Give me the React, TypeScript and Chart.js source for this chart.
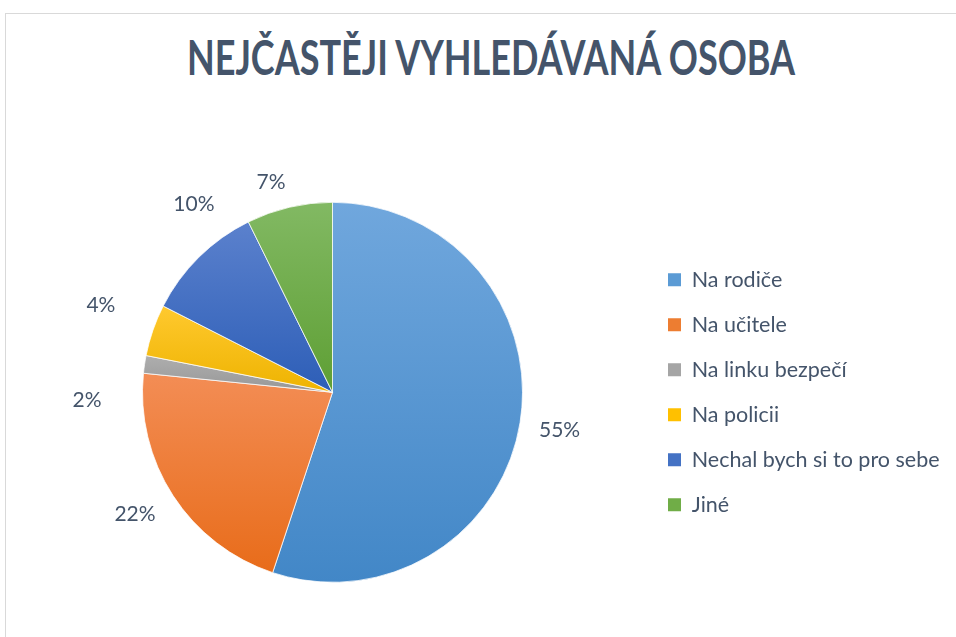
import React, { useEffect, useRef } from 'react';
import { Chart, registerables } from 'chart.js';

Chart.register(...registerables);

// ---- data ----
const TITLE = 'NEJČASTĚJI VYHLEDÁVANÁ OSOBA';
const CATEGORIES = ['Na rodiče', 'Na učitele', 'Na linku bezpečí', 'Na policii', 'Nechal bych si to pro sebe', 'Jiné'];
const SHARES = [55.1, 21.5, 1.5, 4.4, 10.2, 7.3];

// ---- styles ----
const TOP_COLORS = ['#70A7DD', '#F38D55', '#AEAEAE', '#FFC92F', '#5B81CD', '#82B963'];
const BOTTOM_COLORS = ['#4287C7', '#E86C1A', '#979797', '#EEB300', '#2D5EB7', '#5E9F34'];
const LEGEND_COLORS = ['#5B9BD5', '#ED7D31', '#A5A5A5', '#FFC000', '#4472C4', '#70AD47'];
const TEXT_COLOR = '#44546A';
const FONT = 'Lato';

// label placement tweaks (degrees clockwise, px beyond the pie edge)
const LABEL_ANGLE_SHIFT = [0, 1.5, -10.2, 1.6, 8.4, -3.1];
const LABEL_RADIAL_GAP = [40, 41.5, 55.5, 57.5, 44.5, 30];

const W = 956;
const H = 637;
const PIE_CX = 332.5;
const PIE_CY = 392.3;
const PIE_R = 190;
const LEGEND_FONT = 21.5;
const LEGEND_BOX = 13;
const LEGEND_ROW = 45;
const LEGEND_PAD = LEGEND_ROW - LEGEND_FONT;
const LEGEND_BOX_LEFT = 668;
const LABEL_FONT = 21;

function sliceGradient(c: any) {
  const i = c.dataIndex;
  const chart = c.chart;
  const area = chart.chartArea;
  if (!area || i == null) return LEGEND_COLORS[i ?? 0];
  const cx = (area.left + area.right) / 2;
  const cy = (area.top + area.bottom) / 2;
  const total = SHARES.reduce((a, b) => a + b, 0);
  let cum = 0;
  for (let j = 0; j < i; j++) cum += SHARES[j];
  const a0 = -Math.PI / 2 + (cum / total) * Math.PI * 2;
  const a1 = a0 + (SHARES[i] / total) * Math.PI * 2;
  let minY = cy;
  let maxY = cy;
  for (const a of [a0, a1]) {
    const y = cy + PIE_R * Math.sin(a);
    minY = Math.min(minY, y);
    maxY = Math.max(maxY, y);
  }
  for (const k of [-Math.PI / 2, Math.PI / 2, (3 * Math.PI) / 2]) {
    if (k >= a0 && k <= a1) {
      const y = cy + PIE_R * Math.sin(k);
      minY = Math.min(minY, y);
      maxY = Math.max(maxY, y);
    }
  }
  const g = chart.ctx.createLinearGradient(0, minY, 0, maxY);
  g.addColorStop(0, TOP_COLORS[i]);
  g.addColorStop(1, BOTTOM_COLORS[i]);
  return g;
}

const labelPlugin = {
  id: 'outsideLabels',
  afterDatasetsDraw(chart: any) {
    const ctx = chart.ctx;
    const meta = chart.getDatasetMeta(0);
    ctx.save();
    ctx.font = `${LABEL_FONT}px ${FONT}`;
    ctx.fillStyle = TEXT_COLOR;
    ctx.textAlign = 'center';
    ctx.textBaseline = 'alphabetic';
    meta.data.forEach((arc: any, i: number) => {
      const p = arc.getProps(['x', 'y', 'startAngle', 'endAngle', 'outerRadius'], true);
      const mid = (p.startAngle + p.endAngle) / 2 + (LABEL_ANGLE_SHIFT[i] * Math.PI) / 180;
      const d = p.outerRadius + LABEL_RADIAL_GAP[i];
      const lx = p.x + d * Math.cos(mid);
      const ly = p.y + d * Math.sin(mid);
      ctx.fillText(Math.round(SHARES[i]) + '%', lx, ly + 0.358 * LABEL_FONT);
    });
    ctx.restore();
  },
};

export default function App() {
  const canvasRef = useRef<HTMLCanvasElement | null>(null);
  const titleRef = useRef<HTMLSpanElement | null>(null);

  useEffect(() => {
    const t = titleRef.current;
    if (t) {
      const w = t.offsetWidth;
      const s = 608 / w;
      t.style.transform = `translateX(-50%) scaleX(${s})`;
    }

    const mctx = document.createElement('canvas').getContext('2d') as CanvasRenderingContext2D;
    mctx.font = `${LEGEND_FONT}px ${FONT}`;
    const textW = Math.max(...CATEGORIES.map((c) => mctx.measureText(c).width));
    const legendW = LEGEND_PAD + LEGEND_BOX + LEGEND_FONT / 2 + textW + 10;
    const legendLeft = LEGEND_BOX_LEFT - LEGEND_PAD;
    const padRight = Math.max(0, W - legendLeft - legendW);
    const padLeft = 2 * PIE_CX - legendLeft;
    const padTop = 200;
    const padBottom = H - (2 * PIE_CY - padTop);

    const chart = new Chart(canvasRef.current as HTMLCanvasElement, {
      type: 'pie',
      data: {
        labels: CATEGORIES,
        datasets: [
          {
            data: SHARES,
            backgroundColor: sliceGradient as any,
            borderColor: 'rgba(255,255,255,0.75)',
            borderWidth: 1,
            radius: PIE_R,
          } as any,
        ],
      },
      options: {
        animation: false,
        responsive: true,
        maintainAspectRatio: false,
        layout: { padding: { left: padLeft, right: padRight, top: padTop, bottom: padBottom } },
        plugins: {
          title: { display: false },
          tooltip: { enabled: false },
          legend: {
            display: true,
            position: 'right',
            align: 'center',
            labels: {
              font: { family: FONT, size: LEGEND_FONT },
              color: TEXT_COLOR,
              boxWidth: LEGEND_BOX,
              boxHeight: LEGEND_BOX,
              padding: LEGEND_PAD,
              generateLabels: () =>
                CATEGORIES.map((text, i) => ({
                  text,
                  fillStyle: LEGEND_COLORS[i],
                  strokeStyle: LEGEND_COLORS[i],
                  lineWidth: 0,
                  hidden: false,
                  index: i,
                  fontColor: TEXT_COLOR,
                })),
            },
          },
        },
      },
      plugins: [labelPlugin],
    });
    return () => chart.destroy();
  }, []);

  return (
    <div style={{ position: 'fixed', left: 0, top: 0, width: W, height: H, overflow: 'hidden', background: '#fff' }}>
      <div
        style={{
          position: 'absolute',
          left: 5,
          top: 13,
          width: 1200,
          height: 900,
          borderTop: '1px solid #D9D9D9',
          borderLeft: '1px solid #D9D9D9',
        }}
      />
      <span
        ref={titleRef}
        style={{
          position: 'absolute',
          left: 491,
          top: 33.4,
          fontFamily: FONT,
          fontWeight: 700,
          fontSize: 48,
          lineHeight: '48px',
          color: TEXT_COLOR,
          whiteSpace: 'nowrap',
          transform: 'translateX(-50%)',
          transformOrigin: 'center',
        }}
      >
        {TITLE}
      </span>
      <div style={{ position: 'absolute', left: 0, top: 0, width: W, height: H }}>
        <canvas ref={canvasRef} />
      </div>
    </div>
  );
}
